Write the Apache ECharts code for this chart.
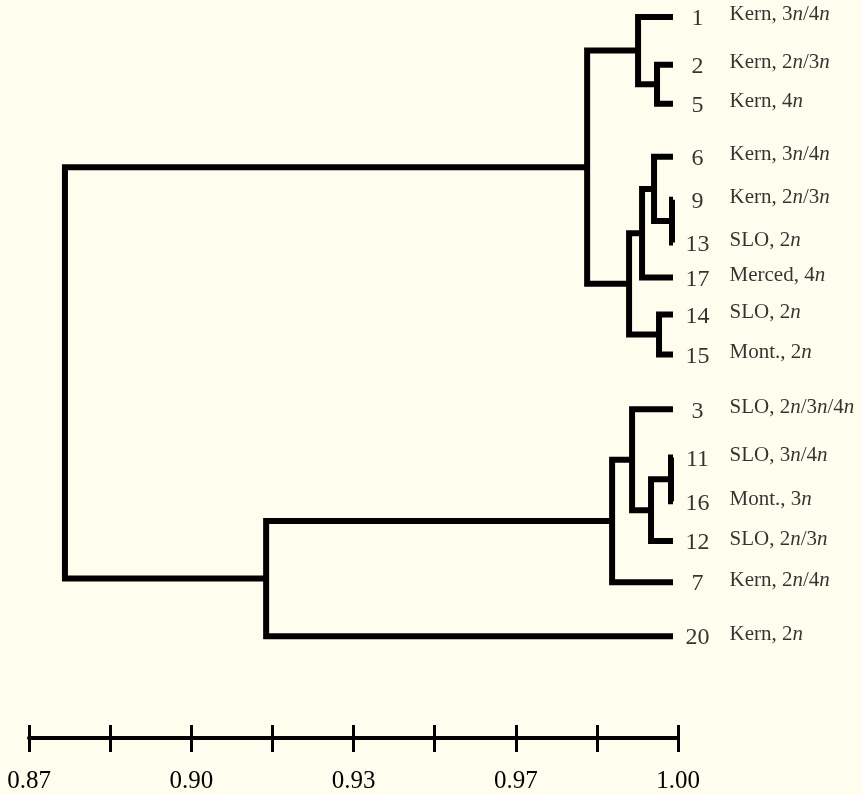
<!DOCTYPE html>
<html>
<head>
<meta charset="utf-8">
<script src="https://cdn.jsdelivr.net/npm/echarts@6/dist/echarts.min.js"></script>
<style>
html,body{margin:0;padding:0;background:#FFFEEE;}
#chart{width:862px;height:794px;}
</style>
</head>
<body>
<div id="chart"></div>
<script>
// Leaves, top to bottom
const leafIds = ['1','2','5','6','9','13','17','14','15','3','11','16','12','7','20'];
const leafNames = ['Kern, 3n/4n','Kern, 2n/3n','Kern, 4n','Kern, 3n/4n','Kern, 2n/3n','SLO, 2n','Merced, 4n','SLO, 2n','Mont., 2n','SLO, 2n/3n/4n','SLO, 3n/4n','Mont., 3n','SLO, 2n/3n','Kern, 2n/4n','Kern, 2n'];
const leafRows = [0, 1.08, 1.96, 3.16, 4.13, 5.10, 5.89, 6.73, 7.63, 8.87, 9.96, 10.95, 11.85, 12.78, 14.0];
const leafSim = 0.999;
// Merges (cluster joins) with similarity levels
const mergeIds = ['G','K','B','H','F','J','E','A','I','D','L','C','M','R'];
const mergeA   = ['9','11','2','14','6','K','F','1','3','E','I','A','L','C'];
const mergeB   = ['13','16','5','15','G','12','17','B','J','H','7','D','20','M'];
const mergeSim = [0.9988,0.9986,0.9958,0.9962,0.9952,0.9946,0.9928,0.9920,0.9908,0.9902,0.9868,0.9818,0.9175,0.8772];
// Scale
const tickValues = [0.87,0.88625,0.9025,0.91875,0.935,0.95125,0.9675,0.98375,1.00];
const labelValues = [0.87,0.9025,0.935,0.9675,1.00];
const tickLabels = ['0.87','0.90','0.93','0.97','1.00'];

const FONT = 'Liberation Serif';
const pos = {};
leafIds.forEach((id,i)=>{ pos[id] = {x: leafSim, y: leafRows[i]}; });
const segs = [];
mergeIds.forEach((m,k)=>{
  const a = pos[mergeA[k]], b = pos[mergeB[k]], s = mergeSim[k];
  pos[m] = {x: s, y: (a.y + b.y)/2};
  segs.push({coords: [[a.x,a.y],[s,a.y],[s,b.y],[b.x,b.y]]});
});
const labelData = leafIds.map((id,i)=>[leafSim, leafRows[i], i]);

const chart = echarts.init(document.getElementById('chart'), null, {renderer:'canvas'});
const gridBox = {left:29, right:184, top:0, bottom:55, containLabel:false};
chart.setOption({
  backgroundColor:'#FFFEEE',
  animation:false,
  grid:[Object.assign({}, gridBox), Object.assign({}, gridBox)],
  xAxis:[
    {
      type:'value', gridIndex:0, min:0.87, max:1.00, position:'bottom', splitLine:{show:false},
      axisLine:{show:true, onZero:false, lineStyle:{color:'#000', width:4}},
      axisTick:{show:true, inside:false, length:14, customValues:tickValues, lineStyle:{color:'#000', width:3}},
      axisLabel:{show:true, customValues:labelValues, margin:31, color:'#000', fontFamily:FONT, fontSize:25,
        formatter:(v)=>{ const k = labelValues.findIndex(x=>Math.abs(x-v)<1e-6); return k>=0?tickLabels[k]:''; }}
    },
    {
      type:'value', gridIndex:1, min:0.87, max:1.00, position:'bottom', splitLine:{show:false},
      axisLine:{show:false, onZero:false},
      axisTick:{show:true, inside:true, length:14, customValues:tickValues, lineStyle:{color:'#000', width:3}},
      axisLabel:{show:false}
    }
  ],
  yAxis:[
    {type:'value', gridIndex:0, inverse:true, min:-0.384, max:16.303, show:false},
    {type:'value', gridIndex:1, inverse:true, min:-0.384, max:16.303, show:false}
  ],
  series:[
    {
      type:'lines', coordinateSystem:'cartesian2d', polyline:true, xAxisIndex:0, yAxisIndex:0,
      lineStyle:{color:'#000', width:6, opacity:1, cap:'butt', join:'miter'},
      data: segs, silent:true
    },
    {
      type:'scatter', xAxisIndex:0, yAxisIndex:0, symbolSize:1, itemStyle:{color:'rgba(0,0,0,0)'},
      data: labelData, silent:true,
      label:{show:true, position:'inside', align:'center', verticalAlign:'middle', offset:[24.5,2],
        color:'#000', fontFamily:FONT, fontSize:24,
        formatter:(p)=>leafIds[p.data[2]]}
    },
    {
      type:'scatter', xAxisIndex:0, yAxisIndex:0, symbolSize:1, itemStyle:{color:'rgba(0,0,0,0)'},
      data: labelData, silent:true,
      label:{show:true, position:'inside', align:'left', verticalAlign:'middle', offset:[56.5,-2],
        color:'#000', fontFamily:FONT, fontSize:21,
        formatter:(p)=>leafNames[p.data[2]].replace(/(\d)n/g,'$1{i|n}'),
        rich:{i:{fontStyle:'italic', fontFamily:FONT, fontSize:21, color:'#000'}}}
    }
  ]
});
</script>
</body>
</html>
